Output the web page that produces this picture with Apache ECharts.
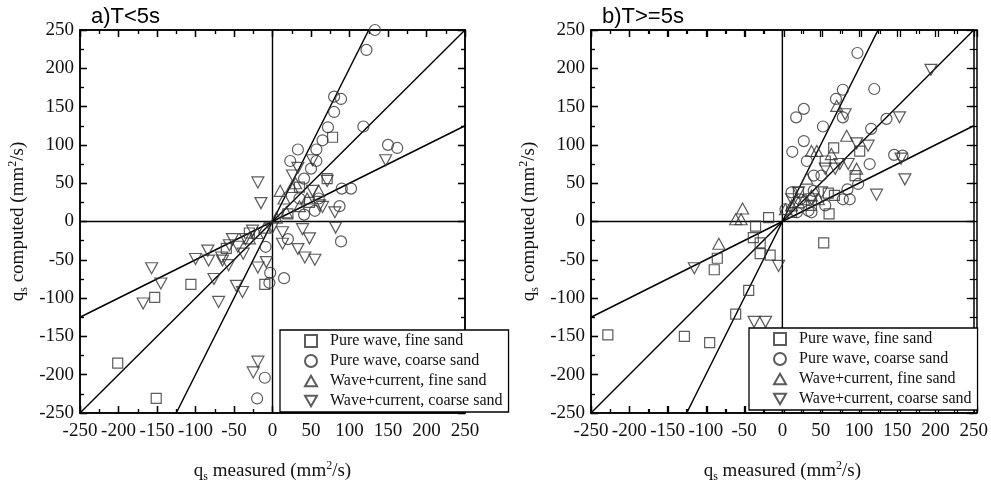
<!DOCTYPE html>
<html>
<head>
<meta charset="utf-8">
<script src="https://cdn.jsdelivr.net/npm/echarts@6/dist/echarts.min.js"></script>
<style>
html,body{margin:0;padding:0;background:#fff;}
#main{width:991px;height:490px;}
</style>
</head>
<body>
<div id="main"></div>
<script>
// series names (legend)
var seriesNames = ['Pure wave, fine sand', 'Pure wave, coarse sand', 'Wave+current, fine sand', 'Wave+current, coarse sand'];
var panelTitles = ['a)T<5s', 'b)T>=5s'];
var axisRange = [-250, 250];
var slopes = [0.5, 1, 2];

// a) T<5s  [measured, computed]
var aWaveFine = [[78,110],[-106,-82],[-153,-99],[-201,-185],[-151,-231],[-10,-82],[71,56],[-60,-35],[-30,-15],[20,10],[48,25],[35,45]];
var aWaveCoarse = [[133,250],[122,224],[80,163],[89,160],[80,143],[72,123],[65,106],[118,124],[33,94],[57,94],[23,79],[57,79],[50,69],
  [150,100],[162,96],[90,43],[102,43],[87,20],[89,-26],[55,14],[41,9],[41,56],[15,-74],[-3,-67],[-4,-80],[-10,-204],[-20,-231],[20,-23],[-9,-33],[35,30],[60,30]];
var aCurrentFine = [[10,40],[15,30],[25,45],[35,20],[18,12],[5,5],[-10,-8],[-20,-15],[-30,-22],[45,30],[30,50],[60,40]];
var aCurrentCoarse = [[-19,51],[-15,24],[147,80],[-157,-61],[-145,-81],[-168,-107],[-100,-49],[-84,-38],[-83,-51],[-66,-47],[-65,-51],[-57,-57],
  [-76,-75],[-70,-105],[-47,-84],[-39,-92],[-45,-33],[-38,-42],[-19,-60],[-8,-53],[-19,-183],[-25,-197],[33,-36],[39,-10],[48,-22],[42,-47],
  [55,-50],[81,12],[82,-8],[33,70],[26,60],[52,80],[61,21],[65,19],[71,53],[52,40],[13,-14],[13,-29],[-26,-12],[-35,-23],[-52,-23],[-56,-31],[0,-8]];

// b) T>=5s
var bWaveFine = [[-228,-148],[-128,-150],[-95,-158],[-61,-121],[-44,-90],[-89,-63],[-85,-48],[-29,-42],[-16,-44],[-38,-21],[-29,-28],[-35,-6],
  [-18,5],[54,-28],[61,10],[67,96],[101,92],[95,60],[68,34],[56,79],[60,37],[21,38],[38,21],[12,12]];
var bWaveCoarse = [[98,220],[120,173],[79,172],[70,160],[79,136],[53,124],[28,147],[18,136],[28,105],[13,91],[116,121],[136,134],[146,87],
  [157,86],[114,75],[99,49],[85,42],[79,29],[88,29],[32,79],[41,60],[51,60],[56,21],[12,38],[19,12],[38,12],[34,14],[4,16],[23,29],[41,40]];
var bCurrentFine = [[-52,17],[-61,3],[-54,3],[-83,-29],[71,151],[84,112],[97,69],[45,92],[38,92],[64,88],[32,56],[38,34],[28,29],[21,25],[12,21],[4,16],[47,29]];
var bCurrentCoarse = [[-115,-61],[-5,-58],[-37,-131],[-22,-131],[194,198],[153,136],[82,140],[97,102],[112,99],[75,75],[86,75],[69,69],[56,69],
  [123,35],[160,55],[155,82],[51,38],[38,29],[21,38],[12,29]];

var panelData = [
  [aWaveFine, aWaveCoarse, aCurrentFine, aCurrentCoarse],
  [bWaveFine, bWaveCoarse, bCurrentFine, bCurrentCoarse]
];

var symbols = ['rect', 'circle', 'path://M1,0 L2,1.732 L0,1.732 Z', 'path://M0,0 L2,0 L1,1.732 Z'];
var symbolSizes = [10, 11, [12, 11], [12, 11]];

var serif = 'Liberation Serif, Times New Roman, serif';
var gridPos = [{left: 80, top: 30, width: 385, height: 383}, {left: 591, top: 30, width: 386, height: 383}];
var legendPos = [{left: 280, top: 330, width: 220}, {left: 749, top: 328, width: 218}];

function axisNameRich(){
  return {
    n: {fontFamily: serif, fontSize: 19, color: '#111'},
    sub: {fontFamily: serif, fontSize: 12, color: '#111', padding: [11, 0, 0, 0]},
    sup: {fontFamily: serif, fontSize: 12, color: '#111', padding: [0, 0, 11, 0]}
  };
}

// one axis config, fresh objects each call
function axisBase(g, pos){
  return {
    type: 'value', min: axisRange[0], max: axisRange[1], interval: 50, gridIndex: g, position: pos,
    axisLine: {show: true, onZero: false, lineStyle: {color: '#000', width: 1.5}},
    axisTick: {show: true, inside: true, length: 7, lineStyle: {color: '#000', width: 1.3}},
    minorTick: {show: true, splitNumber: 2, length: 4, lineStyle: {color: '#000', width: 1.2}},
    splitLine: {show: false},
    axisLabel: {show: false}
  };
}

function lineSeries(xi, yi, pts){
  return {
    type: 'line', xAxisIndex: xi, yAxisIndex: yi, silent: true, symbol: 'none',
    data: pts, lineStyle: {color: '#000', width: 1.4}, z: 1
  };
}

function buildOption(){
  var grids = [], xAxes = [], yAxes = [], series = [], legends = [], titles = [];
  var lo = axisRange[0], hi = axisRange[1];
  for (var p = 0; p < 2; p++){
    grids.push(gridPos[p]);
    titles.push({
      text: panelTitles[p],
      left: gridPos[p].left + 6, top: 1,
      textStyle: {fontFamily: 'Liberation Sans, Arial, sans-serif', fontSize: 22, fontWeight: 'normal', color: '#000'}
    });
    // bottom / left axes with labels, top / right mirror axes
    var xb = axisBase(p, 'bottom');
    xb.axisLabel = {show: true, fontFamily: serif, fontSize: 19, color: '#111', margin: 9};
    xb.name = '{n|q}{sub|s}{n| measured (mm}{sup|2}{n|/s)}';
    xb.nameLocation = 'middle';
    xb.nameGap = 47;
    xb.nameTextStyle = {rich: axisNameRich()};
    xAxes.push(xb);
    xAxes.push(axisBase(p, 'top'));

    var yl = axisBase(p, 'left');
    yl.axisLabel = {show: true, fontFamily: serif, fontSize: 19, color: '#111', margin: 6};
    yl.name = '{n|q}{sub|s}{n| computed (mm}{sup|2}{n|/s)}';
    yl.nameLocation = 'middle';
    yl.nameGap = 50;
    yl.nameRotate = 90;
    yl.nameTextStyle = {rich: axisNameRich()};
    yAxes.push(yl);
    yAxes.push(axisBase(p, 'right'));

    var xi = p * 2, yi = p * 2;
    // ratio lines y = k x (clipped to the grid)
    slopes.forEach(function(k){
      series.push(lineSeries(xi, yi, [[lo, lo * k], [hi, hi * k]]));
    });
    // zero lines
    series.push(lineSeries(xi, yi, [[0, lo], [0, hi]]));
    series.push(lineSeries(xi, yi, [[lo, 0], [hi, 0]]));

    for (var s = 0; s < 4; s++){
      series.push({
        name: seriesNames[s], type: 'scatter', xAxisIndex: xi, yAxisIndex: yi,
        data: panelData[p][s], symbol: symbols[s], symbolSize: symbolSizes[s],
        itemStyle: {color: 'rgba(255,255,255,0)', borderColor: '#333', borderWidth: 1.2},
        z: 3
      });
    }
    legends.push({
      left: legendPos[p].left, top: legendPos[p].top, width: legendPos[p].width,
      orient: 'vertical', data: seriesNames, selectedMode: false,
      backgroundColor: '#fff', borderColor: '#000', borderWidth: 1.3,
      padding: [3, 6, 3, 24], itemGap: 4, itemWidth: 12, itemHeight: 12,
      textStyle: {fontFamily: serif, fontSize: 16, color: '#111', padding: [0, 0, 0, 8]},
      z: 12
    });
  }
  // frame grids on top of the plots: only the tick marks of the four sides
  for (var q = 0; q < 2; q++){
    grids.push(gridPos[q]);
    ['bottom', 'top'].forEach(function(pos){ xAxes.push(axisBase(2 + q, pos)); });
    ['left', 'right'].forEach(function(pos){ yAxes.push(axisBase(2 + q, pos)); });
  }
  return {
    backgroundColor: '#fff', animation: false,
    title: titles, grid: grids, xAxis: xAxes, yAxis: yAxes, legend: legends, series: series
  };
}

var myChart = echarts.init(document.getElementById('main'));
myChart.setOption(buildOption());
</script>
</body>
</html>
